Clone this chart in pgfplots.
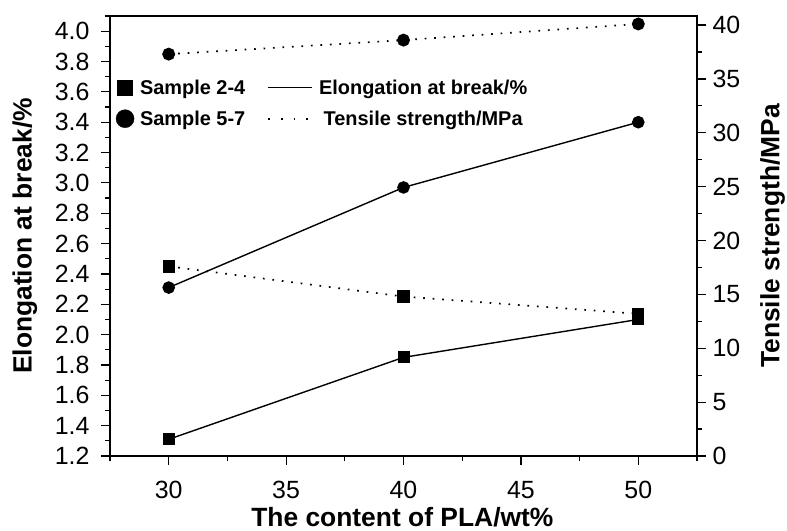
\documentclass[border=0pt]{standalone}
\usepackage{pgfplots}
\pgfplotsset{compat=1.18}
\usepackage{fontspec}
\setmainfont{Liberation Sans}

\newcommand{\legfont}{\bfseries\fontsize{20}{24}\selectfont}

\pgfplotsset{
  frame/.style={
    scale only axis, width=587bp, height=440bp,
    at={(0bp,0bp)}, anchor=south west,
    xmin=27.5, xmax=52.5,
    axis line style={line width=1.3bp},
    tick style={black, line width=1.2bp},
    tick align=outside,
    major tick length=9bp, minor tick length=5bp,
    tick label style={font=\fontsize{25}{28}\selectfont},
    label style={font=\bfseries\fontsize{26.5}{30}\selectfont, inner sep=0pt},
    /pgf/number format/assume math mode=true,
  },
  elong/.style={black, line width=1.4bp, solid},
  tens/.style={black, line width=1.7bp, dash pattern=on 1.7bp off 7.8bp},
  sq/.style={mark=square*, mark size=5.3bp, mark options={solid, fill=black}},
  ci/.style={mark=*, mark size=5.6bp, mark options={solid, fill=black}},
  markleg/.style={legend image code/.code={\draw[##1] plot coordinates {(8bp,0bp)};}},
  lineleg/.style={legend image code/.code={\draw[##1] (0bp,0bp) -- (44bp,0bp);}},
}

\begin{document}
\begin{tikzpicture}
\useasboundingbox (-110bp,-75bp) rectangle (677bp,456bp);

% left axis: elongation at break
\begin{axis}[frame,
  ymin=1.2, ymax=4.1,
  ytick={1.2,1.4,1.6,1.8,2.0,2.2,2.4,2.6,2.8,3.0,3.2,3.4,3.6,3.8,4.0},
  minor ytick={1.3,1.5,1.7,1.9,2.1,2.3,2.5,2.7,2.9,3.1,3.3,3.5,3.7,3.9,4.1},
  xtick={30,35,40,45,50},
  minor xtick={27.5,32.5,37.5,42.5,47.5,52.5},
  xtick pos=left, ytick pos=left,
  yticklabel style={xshift=-8bp, /pgf/number format/.cd, fixed, fixed zerofill, precision=1},
  xticklabel style={yshift=-13bp},
  xlabel={The content of PLA/wt\%},
  ylabel={Elongation at break/\%},
  xlabel style={at={(axis description cs:0.498,-0.138)}, anchor=center},
  ylabel style={at={(axis description cs:-0.145,0.5)}, anchor=center},
  legend columns=2,
  legend style={draw=none, fill=none, at={(axis description cs:0.01,0.86)}, anchor=north west,
    font=\legfont, nodes={inner sep=2bp},
    /tikz/every odd column/.append style={column sep=4bp},
    /tikz/every even column/.append style={column sep=20bp},
    row sep=11bp, inner sep=0pt},
]
\addlegendimage{sq, mark size=7.5bp, markleg}
\addlegendentry{Sample 2-4}
\addlegendimage{elong, lineleg}
\addlegendentry{Elongation at break/\%}
\addlegendimage{ci, mark size=9bp, markleg}
\addlegendentry{Sample 5-7}
\addlegendimage{black, line width=1.8bp, dash pattern=on 1.8bp off 10.9bp, lineleg}
\addlegendentry{Tensile strength/MPa}

\addplot[elong, sq, forget plot] coordinates {(30,1.31) (40,1.85) (50,2.10)};
\addplot[elong, ci, forget plot] coordinates {(30,2.31) (40,2.97) (50,3.40)};
\end{axis}

% right axis: tensile strength
\begin{axis}[frame,
  axis x line=none, axis y line*=right,
  ymin=0, ymax=40.84,
  ytick={0,5,10,15,20,25,30,35,40},
  minor ytick={2.5,7.5,12.5,17.5,22.5,27.5,32.5,37.5},
  yticklabel style={xshift=3bp},
  ylabel={Tensile strength/MPa},
  ylabel style={at={(axis description cs:1.129,0.5)}, anchor=center},
]
\addplot[tens, sq] coordinates {(30,17.6) (40,14.8) (50,13.2)};
\addplot[tens, ci] coordinates {(30,37.3) (40,38.6) (50,40.1)};
\end{axis}
\end{tikzpicture}
\end{document}
